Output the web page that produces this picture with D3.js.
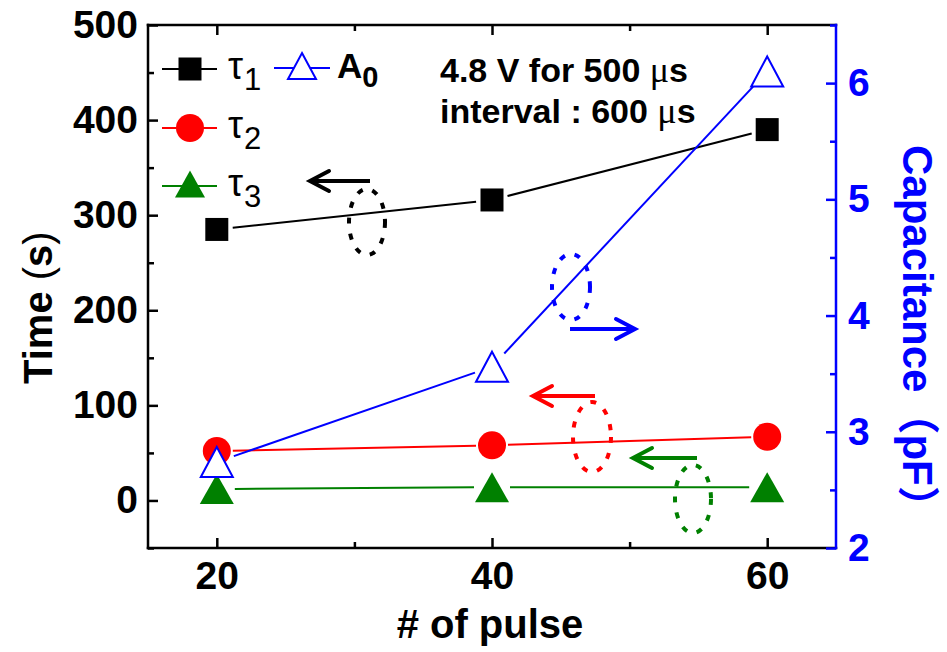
<!DOCTYPE html>
<html>
<head>
<meta charset="utf-8">
<script src="https://cdn.jsdelivr.net/npm/d3@7"></script>
<style>
  body { margin: 0; background: #fff; }
  text { font-family: "Liberation Sans", Arial, "Noto Sans CJK SC", sans-serif; }
</style>
</head>
<body>
<svg id="chart" width="947" height="652"></svg>
<script>
// Pulse count on the x axis
const pulses = [20, 40, 60];
// Time constants (s), left axis
const tau1 = [285, 316, 390];
const tau2 = [52, 58, 67];
const tau3 = [12, 14, 14];
// Capacitance A0 (pF), right axis
const a0 = [2.74, 3.56, 6.10];

const xMajor = [20, 40, 60];
const xMinor = [30, 50];
const yMajor = [0, 100, 200, 300, 400, 500];
const yMinor = [-50, 50, 150, 250, 350, 450];
const y2Major = [2, 3, 4, 5, 6];
const y2Minor = [2.5, 3.5, 4.5, 5.5, 6.5];

const notes = ["4.8 V for 500 ", "interval : 600 "];

const L = 148, R = 836, T = 25, B = 548;
const BLUE = "#0000ff", RED = "#ff0000", GREEN = "#008000";
const SANS = "Liberation Sans, Arial, Noto Sans CJK SC, sans-serif";
const SERIF = "Liberation Serif, Times New Roman, serif";

const svg = d3.select("#chart");
const x = d3.scaleLinear().domain([15, 65]).range([L, R]);
const y = d3.scaleLinear().domain([-50, 500]).range([B, T]);
const y2 = d3.scaleLinear().domain([2, 6.5]).range([B, T]);

function styleAxis(g, color) {
  g.select(".domain").remove();
  g.selectAll("line").attr("stroke", color).attr("stroke-width", 2.5);
  g.selectAll("text").attr("fill", color).attr("font-weight", "bold")
    .attr("font-size", 39).attr("font-family", SANS);
}

// Frame
const frame = [[L, T, R, T, "#000"], [L, B, R, B, "#000"], [L, T, L, B, "#000"], [R, T, R, B, BLUE]];
frame.forEach(([x1, y1, x2, y2_, c]) => svg.append("line")
  .attr("x1", x1).attr("y1", y1).attr("x2", x2).attr("y2", y2_)
  .attr("stroke", c).attr("stroke-width", 2.5).attr("stroke-linecap", "square"));

// Bottom axis
svg.append("g").attr("transform", `translate(0,${B})`)
  .call(d3.axisBottom(x).tickValues(xMajor).tickSize(-10).tickPadding(13).tickFormat(d3.format("d")))
  .call(g => styleAxis(g, "#000"));
svg.append("g").attr("transform", `translate(0,${B})`)
  .call(d3.axisBottom(x).tickValues(xMinor).tickSize(-6).tickFormat(""))
  .call(g => styleAxis(g, "#000"));
// Top axis (ticks only)
svg.append("g").attr("transform", `translate(0,${T})`)
  .call(d3.axisTop(x).tickValues(xMajor).tickSize(-10).tickFormat(""))
  .call(g => styleAxis(g, "#000"));
svg.append("g").attr("transform", `translate(0,${T})`)
  .call(d3.axisTop(x).tickValues(xMinor).tickSize(-6).tickFormat(""))
  .call(g => styleAxis(g, "#000"));

// Left axis
svg.append("g").attr("transform", `translate(${L},0)`)
  .call(d3.axisLeft(y).tickValues(yMajor).tickSize(-10).tickPadding(10).tickFormat(d3.format("d")))
  .call(g => styleAxis(g, "#000"));
svg.append("g").attr("transform", `translate(${L},0)`)
  .call(d3.axisLeft(y).tickValues(yMinor).tickSize(-6).tickFormat(""))
  .call(g => styleAxis(g, "#000"));

// Right axis
svg.append("g").attr("transform", `translate(${R},0)`)
  .call(d3.axisRight(y2).tickValues(y2Major).tickSize(-10).tickPadding(12).tickFormat(d3.format("d")))
  .call(g => styleAxis(g, BLUE));
svg.append("g").attr("transform", `translate(${R},0)`)
  .call(d3.axisRight(y2).tickValues(y2Minor).tickSize(-6).tickFormat(""))
  .call(g => styleAxis(g, BLUE));

// Axis titles
{
  const t = svg.append("text").attr("transform", "translate(52,384) rotate(-90)")
    .attr("text-anchor", "start").attr("font-size", 40).attr("font-weight", "bold")
    .attr("xml:space", "preserve");
  t.append("tspan").text("Time ");
  t.append("tspan").attr("font-weight", "normal").text("(");
  t.append("tspan").text("s");
  t.append("tspan").attr("font-weight", "normal").text(")");
}
svg.append("text").attr("x", 490).attr("y", 638)
  .attr("text-anchor", "middle").attr("font-size", 40).attr("font-weight", "bold")
  .text("# of pulse");
svg.append("text").attr("transform", "translate(903,145) rotate(90)")
  .attr("text-anchor", "start").attr("font-size", 42).attr("font-weight", "bold")
  .attr("fill", BLUE).text("Capacitance\uff08pF\uff09");

// Series lines: segments stop short of each marker
function gapLine(xs, ys, yScale, color, gap) {
  const pts = xs.map((d, i) => [x(d), yScale(ys[i])]);
  for (let i = 0; i < pts.length - 1; i++) {
    const [x0, y0] = pts[i], [x1, y1] = pts[i + 1];
    const len = Math.hypot(x1 - x0, y1 - y0);
    const ux = (x1 - x0) / len, uy = (y1 - y0) / len;
    svg.append("line")
      .attr("x1", x0 + ux * gap).attr("y1", y0 + uy * gap)
      .attr("x2", x1 - ux * gap).attr("y2", y1 - uy * gap)
      .attr("stroke", color).attr("stroke-width", 2);
  }
}

const square = d3.symbol().type(d3.symbolSquare).size(23 * 23);
const circle = d3.symbol().type(d3.symbolCircle).size(Math.PI * 14 * 14);
function triPath(cx, cy, w, h) {
  return `M${cx},${cy - h / 2}L${cx + w / 2},${cy + h / 2}L${cx - w / 2},${cy + h / 2}Z`;
}

gapLine(pulses, tau1, y, "#000", 16);
gapLine(pulses, tau2, y, RED, 16);
gapLine(pulses, tau3, y, GREEN, 18);
gapLine(pulses, a0, y2, BLUE, 18);

svg.selectAll(".m1").data(pulses).join("path")
  .attr("transform", (d, i) => `translate(${x(d)},${y(tau1[i])})`)
  .attr("d", square()).attr("fill", "#000");
svg.selectAll(".m2").data(pulses).join("path")
  .attr("transform", (d, i) => `translate(${x(d)},${y(tau2[i])})`)
  .attr("d", circle()).attr("fill", RED);
svg.selectAll(".m3").data(pulses).join("path")
  .attr("d", (d, i) => triPath(x(d), y(tau3[i]), 34, 30)).attr("fill", GREEN);
svg.selectAll(".m4").data(pulses).join("path")
  .attr("d", (d, i) => triPath(x(d), y2(a0[i]), 32, 30))
  .attr("fill", "#fff").attr("stroke", BLUE).attr("stroke-width", 2);

// Legend
function legendLine(x0, x1, yy, color) {
  svg.append("line").attr("x1", x0).attr("x2", x1).attr("y1", yy).attr("y2", yy)
    .attr("stroke", color).attr("stroke-width", 2);
}
function tauLabel(xx, yy, sub) {
  const t = svg.append("text").attr("x", xx).attr("y", yy)
    .attr("font-family", SERIF).attr("font-size", 38);
  t.append("tspan").text("\u03c4");
  t.append("tspan").attr("dx", 1).attr("dy", 11).attr("font-size", 31).text(sub);
}
legendLine(162, 217, 69, "#000");
svg.append("path").attr("transform", "translate(190,69)").attr("d", square()).attr("fill", "#000");
tauLabel(228, 79, "1");
legendLine(162, 217, 128, RED);
svg.append("path").attr("transform", "translate(190,128)").attr("d", circle()).attr("fill", RED);
tauLabel(228, 138, "2");
legendLine(162, 217, 186, GREEN);
svg.append("path").attr("d", triPath(190, 184, 30, 27)).attr("fill", GREEN);
tauLabel(228, 196, "3");
legendLine(274, 330, 68, BLUE);
svg.append("path").attr("d", triPath(302, 66, 28, 26)).attr("fill", "#fff").attr("stroke", BLUE).attr("stroke-width", 2);
{
  const t = svg.append("text").attr("x", 337).attr("y", 78).attr("font-size", 35).attr("font-weight", "bold");
  t.append("tspan").text("A");
  t.append("tspan").attr("dy", 9).attr("font-size", 29).text("0");
}

// Pulse condition note
notes.forEach((s, i) => {
  const t = svg.append("text").attr("x", 440).attr("y", 82 + i * 41)
    .attr("font-size", 34).attr("font-weight", "bold").attr("xml:space", "preserve");
  t.append("tspan").text(s);
  t.append("tspan").attr("font-family", SERIF)
    .attr("font-weight", "normal").attr("font-size", 36).text("\u03bc");
  t.append("tspan").text("s");
});

// Guide arrows with dotted loops pointing to each series' axis
const guides = [
  { color: "#000", cx: 367, cy: 222, rx: 18, ry: 33, ax0: 370, ax1: 310, ay: 181 },
  { color: BLUE, cx: 571, cy: 287, rx: 19, ry: 33, ax0: 570, ax1: 635, ay: 329 },
  { color: RED, cx: 592, cy: 437, rx: 19, ry: 35, ax0: 595, ax1: 533, ay: 396 },
  { color: GREEN, cx: 693, cy: 499, rx: 18, ry: 34, ax0: 697, ax1: 633, ay: 458 },
];
guides.forEach(g => {
  svg.append("ellipse").attr("cx", g.cx).attr("cy", g.cy).attr("rx", g.rx).attr("ry", g.ry)
    .attr("fill", "none").attr("stroke", g.color).attr("stroke-width", 4)
    .attr("stroke-dasharray", "6 10");
  svg.append("line").attr("x1", g.ax0).attr("x2", g.ax1).attr("y1", g.ay).attr("y2", g.ay)
    .attr("stroke", g.color).attr("stroke-width", 4);
  const dir = Math.sign(g.ax1 - g.ax0);
  svg.append("path")
    .attr("d", `M${g.ax1 - dir * 19},${g.ay - 10}L${g.ax1},${g.ay}L${g.ax1 - dir * 19},${g.ay + 10}`)
    .attr("fill", "none").attr("stroke", g.color).attr("stroke-width", 4)
    .attr("stroke-linecap", "round").attr("stroke-linejoin", "miter");
});
</script>
</body>
</html>
